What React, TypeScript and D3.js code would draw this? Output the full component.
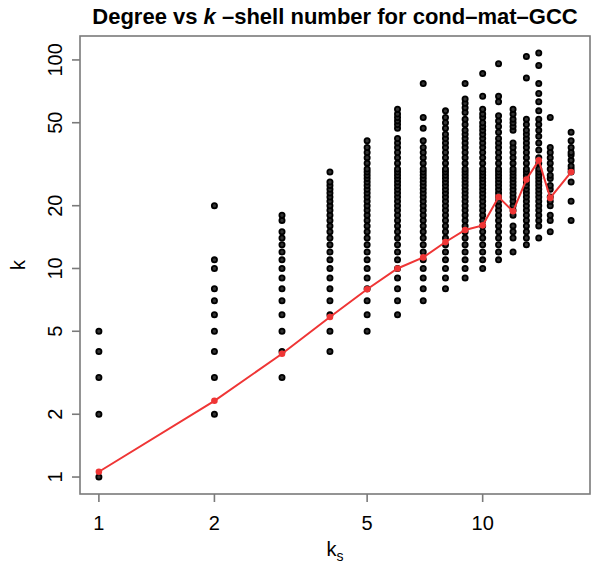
import React from 'react';
import * as d3 from 'd3';

// k-shell index of each column
const shells = [1, 2, 3, 4, 5, 6, 7, 8, 9, 10, 11, 12, 13, 14, 15, 17];

const shell1 = [1, 2, 3, 4, 5];
const shell2 = [2, 3, 4, 5, 6, 7, 8, 10, 11, 20];
const shell3 = [3, 4, 5, 6, 7, 8, 9, 10, 11, 12, 13, 14, 15, 17, 18];
const shell4 = [4, 5, 6, 7, 8, 9, 10, 11, 12, 13, 14, 15, 16, 17, 18, 19, 20, 21, 22, 23, 24, 25, 26, 29];
const shell5 = [5, 6, 7, 8, 9, 10, 11, 12, 13, 14, 15, 16, 17, 18, 19, 20, 21, 22, 23, 24, 25, 26, 27, 28, 29, 30, 32, 34, 36, 38, 41];
const shell6 = [6, 7, 8, 9, 10, 11, 12, 13, 14, 15, 16, 17, 18, 19, 20, 21, 22, 23, 24, 25, 26, 27, 28, 29, 30, 32, 34, 36, 38, 40, 42, 47, 49, 51, 53, 55, 58];
const shell7 = [7, 8, 9, 10, 11, 12, 13, 14, 15, 16, 17, 18, 19, 20, 21, 22, 23, 24, 25, 26, 27, 28, 29, 30, 32, 34, 36, 38, 41, 47, 53, 77];
const shell8 = [8, 9, 10, 11, 12, 13, 14, 15, 16, 17, 18, 19, 20, 21, 22, 23, 24, 25, 26, 27, 28, 29, 30, 32, 34, 36, 38, 40, 42, 44, 47, 50, 53, 57];
const shell9 = [9, 10, 11, 12, 13, 14, 15, 16, 17, 18, 19, 20, 21, 22, 23, 24, 25, 26, 27, 28, 29, 30, 32, 34, 36, 38, 40, 42, 44, 46, 49, 52, 56, 59, 62, 65, 77];
const shell10 = [10, 11, 12, 13, 14, 15, 16, 17, 18, 19, 20, 21, 22, 23, 24, 25, 26, 27, 28, 29, 30, 32, 34, 36, 38, 40, 42, 44, 46, 48, 50, 53, 55, 58, 67, 86];
const shell11 = [11, 12, 13, 14, 15, 16, 17, 18, 19, 20, 21, 22, 23, 24, 25, 26, 27, 28, 29, 30, 32, 34, 36, 38, 40, 42, 45, 48, 51, 54, 63, 67, 96];
const shell12 = [12, 14, 15, 16, 18, 19, 20, 21, 22, 23, 24, 25, 26, 27, 28, 29, 30, 32, 34, 36, 38, 40, 46, 48, 50, 52, 55, 58];
const shell13 = [13, 14, 15, 16, 17, 18, 19, 20, 21, 22, 23, 24, 25, 26, 27, 28, 29, 30, 32, 34, 36, 38, 40, 42, 44, 46, 49, 52, 82, 104];
const shell14 = [14, 16, 17, 18, 19, 20, 21, 22, 23, 24, 25, 26, 27, 28, 29, 30, 32, 34, 37, 40, 43, 46, 49, 52, 57, 63, 69, 77, 94, 108];
const shell15 = [15, 17, 18, 20, 21, 22, 24, 25, 27, 28, 30, 32, 34, 36, 38, 53];
const shell17 = [17, 21, 26, 29, 30, 31, 33, 35, 36, 38, 41, 45];
const degreesByShell = [shell1, shell2, shell3, shell4, shell5, shell6, shell7, shell8,
  shell9, shell10, shell11, shell12, shell13, shell14, shell15, shell17];

// mean degree per shell (red line)
const meanDegree = [1.06, 2.32, 3.9, 5.85, 7.95, 10.0, 11.3, 13.4, 15.3, 16.1, 22.0, 18.8, 26.7, 33.0, 21.8, 29.0];

const xTicks = [1, 2, 5, 10];
const yTicks = [1, 2, 5, 10, 20, 50, 100];

const W = 591, H = 564;
const left = 80, right = 590, top = 36, bottom = 494;
const font = "'Liberation Sans', Arial, Helvetica, sans-serif";
const frame = '#7a7a7a';

// R-style 4% padding on a log axis
const logPad = (lo: number, hi: number) => {
  const a = Math.log10(lo), b = Math.log10(hi), d = (b - a) * 0.04;
  return [Math.pow(10, a - d), Math.pow(10, b + d)];
};

const App = () => {
  const allK = degreesByShell.flat();
  const x = d3.scaleLog().domain(logPad(1, d3.max(shells)!)).range([left, right]);
  const y = d3.scaleLog().domain(logPad(1, d3.max(allK)!)).range([bottom, top]);

  const points = degreesByShell.flatMap((ks, i) => ks.map(k => ({ s: shells[i], k })));
  const line = d3.line<number>().x((_, i) => x(shells[i])).y(d => y(d));
  const cx = (left + right) / 2, cy = (top + bottom) / 2;

  return (
    <svg width={W} height={H} style={{ position: 'absolute', left: 0, top: 0, background: '#fff' }}
      fontFamily={font}>
      <text x={cx} y={24} textAnchor="middle" fontSize={22} fontWeight="bold">
        Degree vs <tspan fontStyle="italic">k</tspan> –shell number for cond–mat–GCC
      </text>

      <g fill="#333" stroke="#000" strokeWidth={1.8}>
        {points.map((p, i) => (
          <circle key={i} cx={x(p.s)} cy={y(p.k)} r={2.6} />
        ))}
      </g>

      <path d={line(meanDegree)!} fill="none" stroke="#ef3535" strokeWidth={2} />
      {meanDegree.map((m, i) => (
        <circle key={i} cx={x(shells[i])} cy={y(m)} r={3.3} fill="#ef3535" />
      ))}

      <rect x={left} y={top} width={right - left} height={bottom - top} fill="none" stroke={frame} strokeWidth={1.6} />

      {xTicks.map(t => (
        <g key={t}>
          <line x1={x(t)} x2={x(t)} y1={bottom} y2={bottom + 8} stroke={frame} strokeWidth={1.6} />
          <text x={x(t)} y={530} textAnchor="middle" fontSize={20}>{t}</text>
        </g>
      ))}
      {yTicks.map(t => (
        <g key={t}>
          <line x1={left} x2={left - 8} y1={y(t)} y2={y(t)} stroke={frame} strokeWidth={1.6} />
          <text transform={`translate(62,${y(t)}) rotate(-90)`} textAnchor="middle" fontSize={20}>{t}</text>
        </g>
      ))}

      <text x={cx} y={556} textAnchor="middle" fontSize={20}>
        k<tspan fontSize={14} dy={5}>s</tspan>
      </text>
      <text transform={`translate(25,${cy}) rotate(-90)`} textAnchor="middle" fontSize={20}>k</text>
    </svg>
  );
};

export default App;
